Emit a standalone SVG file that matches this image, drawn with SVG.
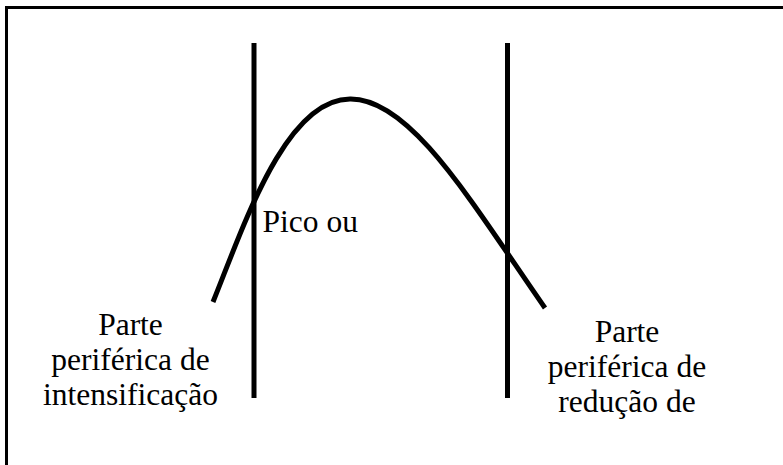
<svg xmlns="http://www.w3.org/2000/svg" width="783" height="465" viewBox="0 0 783 465">
<style>
.t{font-family:'Liberation Serif','Times New Roman','DejaVu Serif',Times,serif;font-size:31.5px;fill:#000;}
.ln{stroke:#000;stroke-width:5;fill:none;}
</style>
<rect x="0" y="0" width="783" height="465" fill="#fff"/>
<g id="frame"><rect x="6.5" y="7.5" width="800" height="500" fill="none" stroke="#000" stroke-width="3"/></g>
<g id="connectors">
<line class="ln" x1="254" y1="43" x2="254" y2="398"/>
<line class="ln" x1="507.5" y1="43" x2="507.5" y2="398"/>
<path class="ln" d="M213,302 C243,228 285,99 350,99 C410,98 470,200 545,308"/>
</g>
<g id="left-label"><text class="t" font-family="Liberation Serif, serif" text-anchor="middle"><tspan x="130.5" y="335">Parte</tspan><tspan x="130.5" y="370">periférica de</tspan><tspan x="130.5" y="405">intensificação</tspan></text></g>
<g id="peak-label"><text class="t" font-family="Liberation Serif, serif" x="262.5" y="232">Pico ou</text></g>
<g id="right-label"><text class="t" font-family="Liberation Serif, serif" text-anchor="middle"><tspan x="627" y="342">Parte</tspan><tspan x="627" y="377">periférica de</tspan><tspan x="627" y="412">redução de</tspan></text></g>
</svg>
